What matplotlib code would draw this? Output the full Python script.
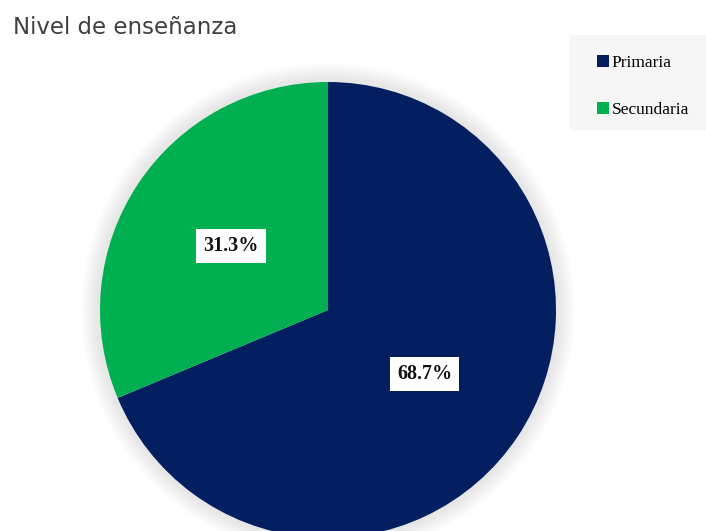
import matplotlib
matplotlib.use('Agg')
import matplotlib.pyplot as plt
from matplotlib.patches import Circle, Rectangle

# nivel de enseñanza de los encuestados (%)
categorias = ['Primaria', 'Secundaria']
porcentajes = [68.7, 31.3]
colores = ['#031f60', '#00b050']
titulo = 'Nivel de enseñanza'

W, H = 706, 531
fig = plt.figure(figsize=(W / 100, H / 100), dpi=100)
fig.patch.set_facecolor('white')

# pie centred at (328, 310) px, radius 228 px
cx, cy, r = 328, 310, 228
ax = fig.add_axes([(cx - r) / W, (H - cy - r) / H, 2 * r / W, 2 * r / H])

# soft glow round the pie
for i in range(14):
    ax.add_patch(Circle((0, 0), 1.0 + 0.006 * (i + 1), fc='#aaaaaa',
                        ec='none', alpha=0.015, zorder=0, clip_on=False))

wedges, _, autotexts = ax.pie(porcentajes, colors=colores, startangle=90,
                              counterclock=False, autopct='%1.1f%%',
                              pctdistance=0.51, radius=1.0,
                              wedgeprops=dict(linewidth=0))
for t in autotexts:
    t.set_family('Liberation Serif')
    t.set_fontweight('bold')
    t.set_fontsize(14.5)
    t.set_color('#111111')
    t.set_bbox(dict(boxstyle='square,pad=0.35', fc='white', ec='none'))

ax.set_xlim(-1, 1)
ax.set_ylim(-1, 1)
ax.set_aspect('equal')
ax.axis('off')

fig.text(13 / W, 1 - 34 / H, titulo, fontsize=16.5, color='#404040',
         family='DejaVu Sans', va='baseline', ha='left')

# legend panel
fig.patches.append(Rectangle((570 / W, 1 - 130 / H), 136 / W, 95 / H,
                             transform=fig.transFigure, fc='#f6f6f6',
                             ec='none', zorder=0))
fig.legend(wedges, categorias, loc='upper left',
           bbox_to_anchor=(597 / W, 1 - 55 / H), frameon=False,
           prop=dict(family='Liberation Serif', size=12.5),
           handlelength=0.7, handleheight=0.7, handletextpad=0.15,
           labelspacing=1.75, borderpad=0, borderaxespad=0)

fig.savefig('out.png', dpi=100)
